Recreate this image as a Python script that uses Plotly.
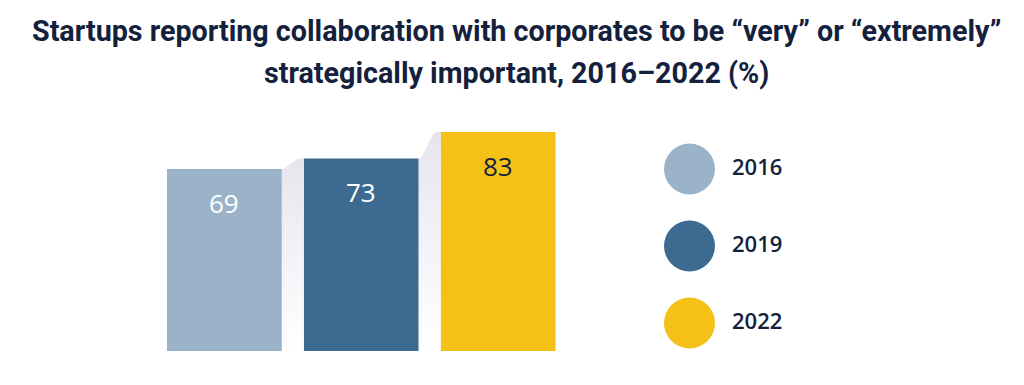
import plotly.graph_objects as go

# ---- data ----
years = ["2016", "2019", "2022"]
values = [69, 73, 83]
bar_colors = ["#9bb3c8", "#3d6a91", "#f5c116"]
label_colors = ["#ffffff", "#ffffff", "#14213d"]
title_lines = [
    "Startups reporting collaboration with corporates to be “very” or “extremely”",
    "strategically important, 2016–2022 (%)",
]

NAVY = "#14213d"
# page has an 8px body margin; figure sized to fit the window exactly
W, H = 1016, 377
half = 0.42  # half bar width in category units (bargap 0.16)

fig = go.Figure()

fig.add_trace(go.Bar(
    x=list(range(len(years))), y=values, marker=dict(color=bar_colors, line=dict(width=0)),
    hoverinfo="skip", showlegend=False,
))

# grey gradient connectors between bar tops
for i in range(len(values) - 1):
    x0, x1 = i + half, i + 1 - half
    y0, y1 = values[i], values[i + 1]
    n = 14
    xs, ys = [], []
    for k in range(n + 1):
        t = k / n
        e = min(1.0, t / 0.8)
        e = e * e * (3 - 2 * e)
        xs.append(x0 + (x1 - x0) * t)
        ys.append(y0 + (y1 - y0) * e)
    xs += [x1, x0, x0]
    ys += [0, 0, y0]
    fig.add_trace(go.Scatter(
        x=xs, y=ys, mode="lines", fill="toself", line=dict(width=0),
        fillgradient=dict(type="vertical",
                          colorscale=[[0, "#ffffff"], [0.5, "#f3f2f7"], [1, "#e6e5ed"]]),
        hoverinfo="skip", showlegend=False,
    ))

for i, v in enumerate(values):
    fig.add_annotation(x=i, y=v, xref="x", yref="y", text=str(v), showarrow=False,
                       yanchor="middle", yshift=-34,
                       font=dict(family="Open Sans", size=26, color=label_colors[i], weight=500))

# legend (circles + labels)
leg_y = [(H - (161 + 77 * i)) / H for i in range(len(years))]
fig.add_trace(go.Scatter(
    x=[681.5 / W] * len(years), y=leg_y, mode="markers",
    marker=dict(size=51, color=bar_colors, line=dict(width=0)),
    xaxis="x2", yaxis="y2", hoverinfo="skip", showlegend=False,
))
fig.add_trace(go.Scatter(
    x=[724 / W] * len(years), y=leg_y, mode="text", text=years,
    textposition="middle right",
    textfont=dict(family="Open Sans", size=22, color=NAVY, weight=600),
    xaxis="x2", yaxis="y2", hoverinfo="skip", showlegend=False,
))

# title
for j, line in enumerate(title_lines):
    fig.add_annotation(x=0.5, y=1 - (22.5 + 42 * j) / H, xref="paper", yref="paper",
                       text=line, showarrow=False, xanchor="center", yanchor="middle",
                       font=dict(family="Roboto", size=28.7, color=NAVY, weight="bold"))

fig.update_layout(
    width=W, height=H, margin=dict(l=0, r=0, t=0, b=0),
    paper_bgcolor="white", plot_bgcolor="rgba(0,0,0,0)",
    bargap=0.16,
    xaxis=dict(domain=[148 / W, 558.5 / W], range=[-0.5, 2.5], visible=False, fixedrange=True),
    yaxis=dict(domain=[(H - 343) / H, (H - 124) / H], range=[0, 83], visible=False, fixedrange=True),
    xaxis2=dict(domain=[0, 1], range=[0, 1], visible=False, anchor="y2"),
    yaxis2=dict(domain=[0, 1], range=[0, 1], visible=False, anchor="x2"),
)

fig.write_html("out.html")
